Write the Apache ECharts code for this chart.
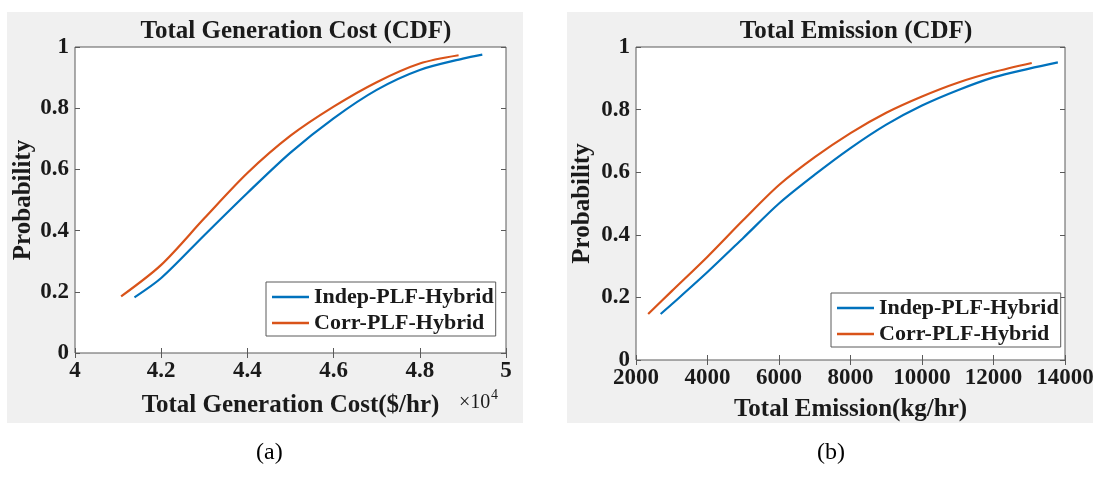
<!DOCTYPE html>
<html>
<head>
<meta charset="utf-8">
<script src="https://cdn.jsdelivr.net/npm/echarts@6/dist/echarts.min.js"></script>
<style>
html,body{margin:0;padding:0;background:#ffffff;}
#chart{width:1099px;height:479px;}
</style>
</head>
<body>
<div id="chart"></div>
<script>
// ---- Data ----
const seriesNames = ['Indep-PLF-Hybrid', 'Corr-PLF-Hybrid'];

// (a) Total Generation Cost ($/hr)
const costIndepX = [41380, 42000, 43000, 44000, 45000, 46000, 47000, 48000, 49000, 49450];
const costIndepP = [0.182, 0.245, 0.385, 0.523, 0.655, 0.767, 0.860, 0.925, 0.962, 0.975];
const costCorrX  = [41070, 42000, 43000, 44000, 45000, 46000, 47000, 48000, 48900];
const costCorrP  = [0.185, 0.288, 0.440, 0.588, 0.710, 0.805, 0.885, 0.946, 0.973];

// (b) Total Emission (kg/hr)
const emisIndepX = [2690, 3000, 4000, 5000, 6000, 7000, 8000, 9000, 10000, 11000, 12000, 13000, 13800];
const emisIndepP = [0.147, 0.178, 0.281, 0.390, 0.500, 0.592, 0.677, 0.752, 0.813, 0.862, 0.903, 0.931, 0.951];
const emisCorrX  = [2340, 3000, 4000, 5000, 6000, 7000, 8000, 9000, 10000, 11000, 12000, 13070];
const emisCorrP  = [0.147, 0.220, 0.330, 0.447, 0.559, 0.648, 0.725, 0.790, 0.842, 0.886, 0.920, 0.949];

// Axis ranges / ticks
const costAxis = {min: 40000, max: 50000, interval: 2000};
const emisAxis = {min: 2000, max: 14000, interval: 2000};
const probAxis = {min: 0, max: 1, interval: 0.2};

const titles = ['Total Generation Cost (CDF)', 'Total Emission (CDF)'];
const xNames = ['Total Generation Cost($/hr)', 'Total Emission(kg/hr)'];
const yName = 'Probability';
const captions = ['(a)', '(b)'];

// ---- Styling ----
const FONT = "'Liberation Serif', 'Times New Roman', serif";
const TXT = '#1a1a1a';
const BOX = '#5a5a5a';
const BLUE = '#0072BD';
const ORANGE = '#D95319';

function pairs(xs, ys) { return xs.map((x, i) => [x, ys[i]]); }

const grids = [
  {left: 75, top: 47, width: 431, height: 306},
  {left: 636, top: 47, width: 429, height: 313}
];

function tickCfg() {
  return {show: true, inside: true, length: 5, lineStyle: {color: BOX, width: 1}};
}

function xAxisMain(gi, ax, name, fmt, gap) {
  return {
    gridIndex: gi, type: 'value', position: 'bottom',
    min: ax.min, max: ax.max, interval: ax.interval,
    axisLine: {show: false}, splitLine: {show: false},
    axisTick: tickCfg(),
    axisLabel: {fontFamily: FONT, fontWeight: 'bold', fontSize: 23, color: TXT, margin: 7,
                formatter: fmt, showMinLabel: true, showMaxLabel: true},
    name: name, nameLocation: 'middle', nameGap: gap,
    nameTextStyle: {fontFamily: FONT, fontWeight: 'bold', fontSize: 25, color: TXT}
  };
}
function xAxisTop(gi, ax) {
  return {
    gridIndex: gi, type: 'value', position: 'top',
    min: ax.min, max: ax.max, interval: ax.interval,
    axisLine: {show: false}, splitLine: {show: false},
    axisTick: tickCfg(), axisLabel: {show: false}
  };
}
function yAxisMain(gi, gap) {
  return {
    gridIndex: gi, type: 'value', position: 'left',
    min: probAxis.min, max: probAxis.max, interval: probAxis.interval,
    axisLine: {show: false}, splitLine: {show: false},
    axisTick: tickCfg(),
    axisLabel: {fontFamily: FONT, fontWeight: 'bold', fontSize: 23, color: TXT, margin: 6},
    name: yName, nameLocation: 'middle', nameGap: gap,
    nameTextStyle: {fontFamily: FONT, fontWeight: 'bold', fontSize: 25, color: TXT}
  };
}
function yAxisRight(gi) {
  return {
    gridIndex: gi, type: 'value', position: 'right',
    min: probAxis.min, max: probAxis.max, interval: probAxis.interval,
    axisLine: {show: false}, splitLine: {show: false},
    axisTick: tickCfg(), axisLabel: {show: false}
  };
}

function lineSeries(name, data, color, xi, yi) {
  return {
    type: 'line', name: name, data: data, xAxisIndex: xi, yAxisIndex: yi,
    smooth: 0.3, showSymbol: false, symbol: 'none',
    lineStyle: {color: color, width: 2.2}, itemStyle: {color: color},
    z: 3
  };
}

function legendCfg(left, top) {
  return {
    data: seriesNames, orient: 'vertical', left: left, top: top,
    icon: 'rect', itemWidth: 37, itemHeight: 2.5, itemGap: 4,
    padding: [4, 2, 2, 6],
    backgroundColor: '#ffffff', borderColor: BOX, borderWidth: 1,
    textStyle: {fontFamily: FONT, fontWeight: 'bold', fontSize: 22, color: TXT},
    selectedMode: false
  };
}

const chart = echarts.init(document.getElementById('chart'), null, {renderer: 'canvas'});

const option = {
  animation: false,
  backgroundColor: '#ffffff',
  title: [
    {text: titles[0], left: 291, top: 14, textAlign: 'center',
     textStyle: {fontFamily: FONT, fontWeight: 'bold', fontSize: 25, color: TXT}},
    {text: titles[1], left: 851, top: 14, textAlign: 'center',
     textStyle: {fontFamily: FONT, fontWeight: 'bold', fontSize: 25, color: TXT}}
  ],
  graphic: [
    {type: 'rect', z: -10, shape: {x: 7, y: 12, width: 516, height: 411}, style: {fill: '#f0f0f0'}},
    {type: 'rect', z: -10, shape: {x: 567, y: 12, width: 526, height: 411}, style: {fill: '#f0f0f0'}},
    {type: 'text', left: 459, top: 393, style: {text: '×10', fontFamily: FONT, fontSize: 20, fill: TXT}},
    {type: 'text', left: 491, top: 388, style: {text: '4', fontFamily: FONT, fontSize: 14, fill: TXT}},
    {type: 'text', left: 256, top: 441, style: {text: captions[0], fontFamily: FONT, fontSize: 24, fill: '#000'}},
    {type: 'text', left: 817, top: 441, style: {text: captions[1], fontFamily: FONT, fontSize: 24, fill: '#000'}}
  ],
  grid: grids.map(g => Object.assign({show: true, backgroundColor: '#ffffff', borderColor: BOX, borderWidth: 1, containLabel: false}, g)),
  legend: [legendCfg(266, 282), legendCfg(831, 293)],
  xAxis: [
    xAxisMain(0, costAxis, xNames[0], v => String(v / 10000), 40),
    xAxisTop(0, costAxis),
    xAxisMain(1, emisAxis, xNames[1], v => String(v), 37),
    xAxisTop(1, emisAxis)
  ],
  yAxis: [
    yAxisMain(0, 39),
    yAxisRight(0),
    yAxisMain(1, 41),
    yAxisRight(1)
  ],
  series: [
    lineSeries(seriesNames[0], pairs(costIndepX, costIndepP), BLUE, 0, 0),
    lineSeries(seriesNames[1], pairs(costCorrX, costCorrP), ORANGE, 0, 0),
    lineSeries(seriesNames[0], pairs(emisIndepX, emisIndepP), BLUE, 2, 2),
    lineSeries(seriesNames[1], pairs(emisCorrX, emisCorrP), ORANGE, 2, 2)
  ]
};
chart.setOption(option);
</script>
</body>
</html>
